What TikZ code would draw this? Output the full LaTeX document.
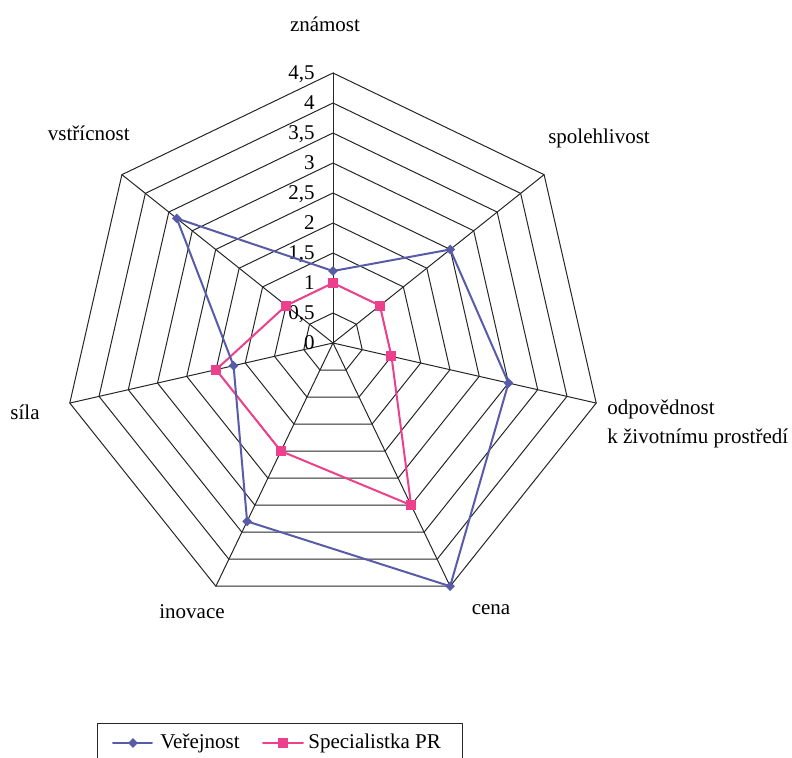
\documentclass[tikz,border=0pt]{standalone}
\usepackage{fontspec}
\setmainfont{Liberation Serif}
\usetikzlibrary{shapes.geometric}
\definecolor{verblue}{RGB}{88,92,168}
\definecolor{prpink}{RGB}{236,64,140}
\tikzset{
  webline/.style={draw=black!85, line width=0.5pt},
  verline/.style={draw=verblue, line width=1pt},
  prline/.style={draw=prpink, line width=1pt},
  vermark/.style={diamond, fill=verblue, inner sep=0pt, minimum size=5pt},
  prmark/.style={rectangle, fill=prpink, inner sep=0pt, minimum size=5pt},
  catlabel/.style={inner sep=0pt}
}
\begin{document}
\begin{tikzpicture}[x=0.5pt,y=0.5pt,font=\fontsize{10.5}{12}\selectfont, line join=round, line cap=round]
	\useasboundingbox (-333,-415) rectangle (459,343);
	% web
	\foreach \r in {1,...,9}{
		\draw[webline] (90:{30*\r}) \foreach \k in {1,...,6}{ -- ({90-\k*360/7}:{30*\r})} -- cycle;}
	\foreach \k in {0,...,6}{
		\coordinate (o\k) at ({90-\k*360/7}:270);
		\draw[webline] (0,0) -- (o\k);}
	% scale
	\foreach \r/\t in {0/0,1/{0,5},2/1,3/{1,5},4/2,5/{2,5},6/3,7/{3,5},8/4,9/{4,5}}{
		\node[anchor=base east, inner sep=0pt] (t\r) at (-18,{30*\r-7}) {\t};}
	% axes
	\node[catlabel] (znamost) at (-8,319) {známost};
	\node[catlabel] (spolehlivost) at (266,205) {spolehlivost};
	\node[catlabel, anchor=west] (odpovednost) at (274,-66) {odpovědnost};
	\node[catlabel, anchor=west] (prostredi) at (274,-95) {k životnímu prostředí};
	\node[catlabel] (cena) at (158,-267) {cena};
	\node[catlabel] (inovace) at (-141,-269) {inovace};
	\node[catlabel] (sila) at (-308,-69) {síla};
	\node[catlabel, anchor=east] (vstricnost) at (-203,210) {vstřícnost};
	% series
	\foreach \v [count=\i from 0] in {1.2,2.5,3,4.5,3.3,1.7,3.33}
		\coordinate (b\i) at ({90-\i*360/7}:{60*\v});
	\foreach \v [count=\i from 0] in {1,1,1,3,2,2,1}
		\coordinate (p\i) at ({90-\i*360/7}:{60*\v});
	\draw[prline] (p0) -- (p1) -- (p2) -- (p3) -- (p4) -- (p5) -- (p6) -- cycle;
	\draw[verline] (b0) -- (b1) -- (b2) -- (b3) -- (b4) -- (b5) -- (b6) -- cycle;
	\foreach \i in {0,...,6}{
		\node[prmark] (pm\i) at (p\i) {};
		\node[vermark] (bm\i) at (b\i) {};}
	% legend
	\draw[webline] (-235,-415) -- (-235,-381) -- (129,-381) -- (129,-415);
	\coordinate (lv1) at (-220,-400); \coordinate (lv2) at (-181,-400);
	\coordinate (lp1) at (-70,-400); \coordinate (lp2) at (-30,-400);
	\draw[verline] (lv1) -- (lv2);
	\node[vermark] (lvm) at (-200,-400) {};
	\node[anchor=west, inner sep=0pt] (lver) at (-173,-400) {Veřejnost};
	\draw[prline] (lp1) -- (lp2);
	\node[prmark] (lpm) at (-50,-400) {};
	\node[anchor=west, inner sep=0pt] (lpr) at (-25,-400) {Specialistka PR};
\end{tikzpicture}
\end{document}
